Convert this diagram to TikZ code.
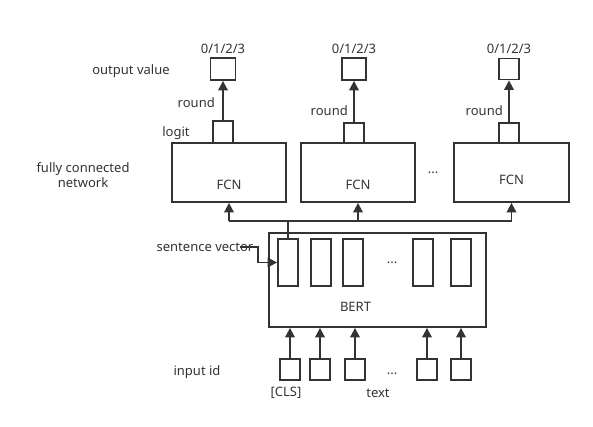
\documentclass[tikz,border=0pt]{standalone}
\usepackage{fontspec}
\setmainfont{Noto Sans}
\usetikzlibrary{arrows.meta}
\usetikzlibrary{positioning}
\definecolor{ink}{HTML}{333333}

\begin{document}
\begin{tikzpicture}[x=1pt,y=-1pt,
    every node/.style={text=ink, font=\fontsize{13}{15.5}\selectfont},
    box/.style={draw=ink, line width=1.8pt, inner sep=0pt},
    wire/.style={draw=ink, line width=1.8pt},
    arr/.style={wire, -{Triangle[length=9.5pt,width=9.5pt]}}]
    \useasboundingbox (0,0) rectangle (593,426);
    \node[box, minimum width=25pt, minimum height=22pt, label=above:0/1/2/3] (out1) at (223,69) {};
    \node[box, minimum width=24pt, minimum height=22pt, label=above:0/1/2/3] (out2) at (354,69) {};
    \node[box, minimum width=20pt, minimum height=21pt, label=above:0/1/2/3] (out3) at (509,69) {};
    \node[box, minimum width=20pt, minimum height=22pt] (lg1) at (223,132) {};
    \node[box, minimum width=20pt, minimum height=20pt] (lg2) at (354,133) {};
    \node[box, minimum width=20pt, minimum height=20pt] (lg3) at (509,133) {};
    \node[box, minimum width=114pt, minimum height=59pt, label={[yshift=-12pt]center:FCN}] (fcn1) at (229,172.5) {};
    \node[box, minimum width=114pt, minimum height=59pt, label={[yshift=-12pt]center:FCN}] (fcn2) at (358,172.5) {};
    \node[box, minimum width=115pt, minimum height=59pt, label={[yshift=-7pt]center:FCN}] (fcn3) at (511.5,172.5) {};
    \draw[arr] (lg1) -- node[left=4pt, pos=0.45] {round} (out1);
    \draw[arr] (lg2) -- node[left=2pt, pos=0.28] {round} (out2);
    \draw[arr] (lg3) -- node[left=2pt, pos=0.28] {round} (out3);
    \node (fdots) at (433,173) {...};

    \node[box, minimum width=217pt, minimum height=94pt, label={[xshift=-22pt,yshift=-27pt]center:BERT}] (bert) at (377.5,280) {};
    \foreach \x [count=\i] in {288,321,353,423,461}
        \node[box, minimum width=20pt, minimum height=47pt] (h\i) at (\x,262.5) {};
    \node (hdots) at (392,263) {...};
    \coordinate (bus) at (288,221);
    \draw[wire] (h1.north) -- (bus);
    \draw[wire] (fcn1 |- bus) -- (fcn3 |- bus);
    \foreach \n in {1,2,3}
        \draw[arr] (fcn\n |- bus) -- (fcn\n.south);

    \node (sv) at (205,247) {sentence vector};
    \coordinate (svs) at (240,247);
    \draw[arr] (svs) -- ++(18,0) |- (h1.west);

    \foreach \x [count=\i] in {290,320,355,427,461} {
        \node[box, minimum width=20pt, minimum height=21pt] (in\i) at (\x,369.5) {};
        \draw[arr] (in\i) -- (in\i |- bert.south);
    }
    \node (idots) at (392,374) {...};
    \node (cls) at (286,393) {[CLS]};
    \node (txt) at (378,393) {text};

    \node (outval) at (131,71) {output value};
    \node (logit) at (176,133) {logit};
    \node[align=center] (fcnlbl) at (83,175) {fully connected\\network};
    \node (inid) at (197,372) {input id};
\end{tikzpicture}
\end{document}
